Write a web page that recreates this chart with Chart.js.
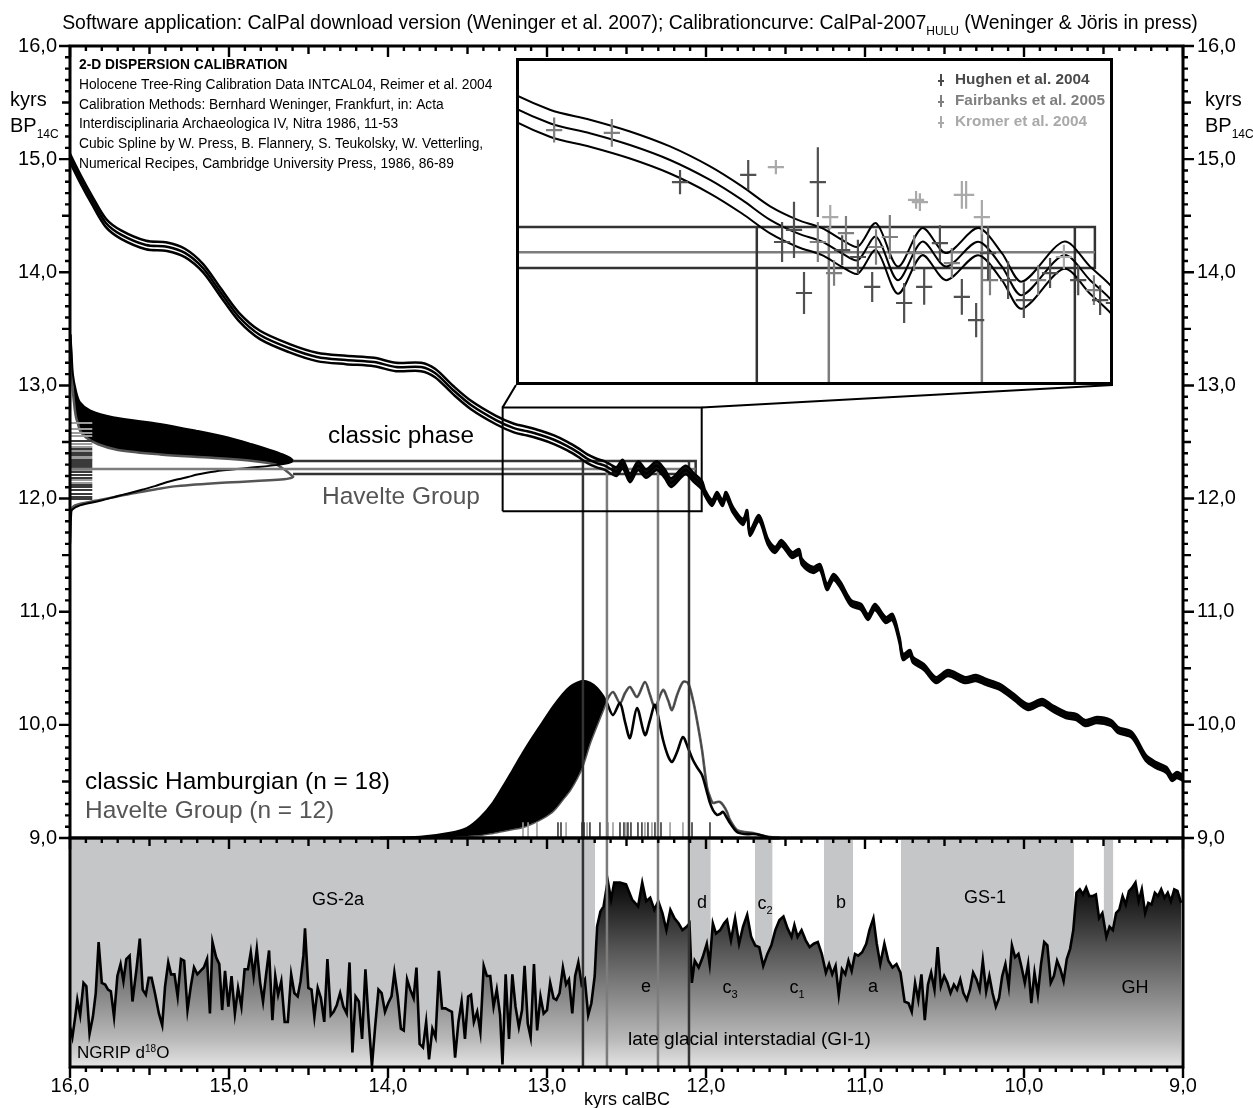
<!DOCTYPE html>
<html>
<head>
<meta charset="utf-8">
<title>2-D dispersion calibration</title>
<script src="https://cdn.jsdelivr.net/npm/chart.js@4.4.1/dist/chart.umd.min.js"></script>
<style>
  html, body { margin: 0; background: #fff; }
  #wrap { position: relative; width: 1253px; height: 1108px; }
  #wrap canvas { position: absolute; }
</style>
</head>
<body>
<div id="wrap">
  <canvas id="main" width="1253" height="1108" style="left:0;top:0"></canvas>
  <canvas id="zoom" width="597" height="327" style="left:516px;top:58px"></canvas>
</div>
<script>
const FONT = '"Liberation Sans", Arial, sans-serif'

// calibration curve CalPal-2007 HULU: cal kyr BC, 14C kyr BP, 1 sigma
const curveCal = [16.000, 15.931, 15.862, 15.774, 15.679, 15.522, 15.390, 15.277, 15.164, 15.050, 14.937, 14.805, 14.623, 14.447, 14.264, 14.088, 13.950, 13.792, 13.704, 13.591, 13.478, 13.321,
  13.208, 13.124, 13.040, 12.956, 12.872, 12.805, 12.746, 12.688, 12.637, 12.595, 12.562, 12.524, 12.478, 12.427, 12.377, 12.310, 12.260, 12.218, 12.130, 12.075, 12.025,
  12.006, 11.962, 11.931, 11.896, 11.874, 11.830, 11.767, 11.742, 11.723, 11.667, 11.610, 11.566, 11.525, 11.459, 11.415, 11.396, 11.327, 11.283, 11.239, 11.198,
  11.154, 11.088, 11.025, 10.981, 10.937, 10.871, 10.827, 10.783, 10.761, 10.717, 10.698, 10.629, 10.553, 10.478, 10.371, 10.302, 10.239, 10.151, 10.063, 9.975,
  9.887, 9.824, 9.736, 9.670, 9.616, 9.541, 9.453, 9.409, 9.321, 9.233, 9.170, 9.104, 9.069, 9.038, 9.000]
const curveC14 = [15.010, 14.816, 14.639, 14.436, 14.333, 14.241, 14.226, 14.171, 14.038, 13.817, 13.605, 13.446, 13.331, 13.252, 13.225, 13.207, 13.163, 13.163, 13.110, 12.960, 12.827, 12.694,
  12.623, 12.595, 12.562, 12.520, 12.464, 12.408, 12.352, 12.314, 12.291, 12.258, 12.239, 12.305, 12.183, 12.291, 12.221, 12.291, 12.221, 12.141, 12.253, 12.183, 12.118,
  12.049, 11.961, 12.032, 11.961, 12.032, 11.899, 11.793, 11.873, 11.696, 11.828, 11.616, 11.546, 11.607, 11.501, 11.528, 11.439, 11.369, 11.395, 11.218, 11.307,
  11.236, 11.077, 11.042, 10.953, 11.042, 10.927, 10.953, 10.750, 10.600, 10.635, 10.573, 10.511, 10.396, 10.458, 10.396, 10.414, 10.379, 10.335, 10.246, 10.158,
  10.202, 10.149, 10.087, 10.069, 10.016, 10.043, 10.016, 9.955, 9.910, 9.707, 9.645, 9.601, 9.530, 9.557, 9.530]
const curveSigma = [0.037, 0.037, 0.037, 0.037, 0.037, 0.037, 0.037, 0.037, 0.037, 0.037, 0.037, 0.037, 0.037, 0.037, 0.037, 0.037, 0.037, 0.037, 0.037, 0.037, 0.037, 0.037,
  0.038, 0.038, 0.038, 0.038, 0.038, 0.038, 0.038, 0.038, 0.038, 0.038, 0.038, 0.038, 0.038, 0.038, 0.038, 0.038, 0.038, 0.038, 0.038, 0.038, 0.038,
  0.026, 0.026, 0.026, 0.026, 0.026, 0.026, 0.026, 0.026, 0.026, 0.026, 0.026, 0.026, 0.026, 0.026, 0.026, 0.026, 0.026, 0.026, 0.026, 0.026,
  0.026, 0.026, 0.026, 0.026, 0.026, 0.026, 0.026, 0.026, 0.026, 0.026, 0.026, 0.026, 0.026, 0.026, 0.026, 0.026, 0.026, 0.026, 0.026, 0.026,
  0.026, 0.026, 0.026, 0.026, 0.026, 0.026, 0.026, 0.026, 0.026, 0.026, 0.026, 0.026, 0.026, 0.026, 0.026]

// NGRIP d18O (permil) against cal kyr BC
const ngripCal = [16.000, 15.985, 15.967, 15.954, 15.936, 15.915, 15.897, 15.877, 15.856, 15.838,
  15.820, 15.800, 15.779, 15.761, 15.743, 15.723, 15.702, 15.682, 15.664, 15.646,
  15.625, 15.607, 15.582, 15.561, 15.543, 15.523, 15.505, 15.487, 15.466, 15.441,
  15.420, 15.402, 15.382, 15.364, 15.343, 15.323, 15.302, 15.282, 15.261, 15.240,
  15.220, 15.199, 15.179, 15.158, 15.138, 15.120, 15.104, 15.081, 15.061, 15.043,
  15.025, 15.004, 14.984, 14.963, 14.943, 14.922, 14.902, 14.881, 14.863, 14.845,
  14.825, 14.804, 14.786, 14.768, 14.748, 14.727, 14.709, 14.691, 14.671, 14.650,
  14.630, 14.609, 14.589, 14.568, 14.550, 14.532, 14.522, 14.501, 14.481, 14.463,
  14.442, 14.422, 14.401, 14.381, 14.360, 14.342, 14.322, 14.301, 14.281, 14.260,
  14.242, 14.224, 14.204, 14.183, 14.163, 14.142, 14.122, 14.101, 14.081, 14.060,
  14.040, 14.019, 13.999, 13.978, 13.960, 13.939, 13.919, 13.901, 13.880, 13.860,
  13.839, 13.821, 13.801, 13.780, 13.760, 13.742, 13.721, 13.701, 13.680, 13.660,
  13.639, 13.619, 13.598, 13.578, 13.557, 13.537, 13.516, 13.496, 13.478, 13.460,
  13.439, 13.419, 13.398, 13.378, 13.357, 13.336, 13.316, 13.295, 13.280, 13.260,
  13.239, 13.218, 13.198, 13.177, 13.157, 13.141, 13.121, 13.103, 13.082, 13.062,
  13.041, 13.021, 13.000, 12.980, 12.959, 12.941, 12.921, 12.900, 12.880, 12.862,
  12.841, 12.823, 12.803, 12.782, 12.762, 12.741, 12.721, 12.700, 12.685, 12.664,
  12.644, 12.618, 12.597, 12.577,
  12.541, 12.503, 12.465, 12.427, 12.401, 12.376, 12.351, 12.325, 12.300, 12.274,
  12.249, 12.224, 12.198, 12.173, 12.148, 12.122, 12.104, 12.089, 12.071, 12.046,
  12.021, 11.995, 11.977, 11.957, 11.937, 11.911, 11.886, 11.868, 11.843, 11.817,
  11.792, 11.767, 11.741, 11.716, 11.691, 11.665, 11.640, 11.614, 11.589, 11.564,
  11.538, 11.513, 11.487, 11.462, 11.444, 11.424, 11.399, 11.373, 11.348, 11.322,
  11.297, 11.272, 11.246, 11.226, 11.206, 11.185, 11.165, 11.145, 11.124, 11.104,
  11.084, 11.063, 11.043, 11.018, 10.992, 10.972, 10.947, 10.926, 10.904, 10.878,
  10.853, 10.827, 10.802, 10.777, 10.751, 10.726, 10.706, 10.685, 10.665, 10.645,
  10.624, 10.604, 10.584, 10.563, 10.543, 10.523, 10.502, 10.482, 10.462, 10.441,
  10.421, 10.401, 10.381, 10.360, 10.340, 10.320, 10.299, 10.279, 10.259, 10.238,
  10.218, 10.198, 10.177, 10.157, 10.137, 10.117, 10.096, 10.076, 10.056, 10.035,
  10.015, 9.995, 9.974, 9.954, 9.934, 9.913, 9.893, 9.873, 9.853, 9.832,
  9.812, 9.792, 9.771, 9.751, 9.731, 9.710, 9.690, 9.670, 9.649, 9.629,
  9.609, 9.589, 9.568, 9.548, 9.528, 9.507, 9.482, 9.462, 9.441, 9.421,
  9.401, 9.380, 9.360, 9.340, 9.320, 9.299, 9.279, 9.259, 9.238, 9.218,
  9.198, 9.177, 9.157, 9.137, 9.116, 9.096, 9.076, 9.055, 9.035, 9.012]
const ngripD18O = [-45.0, -45.6, -44.4, -43.4, -44.3, -42.4, -42.6, -45.4, -44.4, -43.0,
  -40.0, -42.4, -42.5, -42.8, -42.9, -44.4, -42.0, -41.3, -42.3, -41.0,
  -40.8, -43.5, -41.6, -39.8, -42.8, -43.1, -42.1, -42.1, -43.0, -44.2,
  -44.9, -42.6, -41.2, -41.9, -41.9, -43.2, -41.0, -41.1, -44.0, -42.6,
  -41.5, -41.9, -41.7, -41.5, -41.0, -44.2, -40.0, -40.9, -41.3, -44.0,
  -41.7, -43.8, -42.0, -44.2, -42.7, -43.8, -41.6, -41.6, -40.6, -42.0,
  -40.4, -42.4, -43.5, -42.0, -40.5, -44.6, -42.0, -43.1, -42.3, -44.7,
  -44.7, -41.9, -43.0, -43.2, -42.3, -40.8, -39.2, -42.7, -42.8, -44.4,
  -42.7, -43.3, -44.7, -41.0, -44.3, -44.1, -43.7, -43.0, -43.8, -44.2,
  -41.2, -46.5, -43.2, -43.5, -45.7, -41.6, -44.6, -47.3, -45.0, -42.8,
  -43.0, -44.1, -43.6, -43.2, -41.8, -43.2, -45.1, -45.2, -42.2, -42.8,
  -43.3, -41.5, -46.0, -46.2, -44.7, -46.9, -45.1, -45.6, -41.7, -43.9,
  -43.9, -44.0, -44.1, -46.8, -44.7, -43.5, -45.7, -43.2, -43.1, -44.7,
  -44.1, -45.3, -41.4, -42.0, -42.0, -43.8, -42.8, -44.3, -47.2, -41.9,
  -45.7, -41.9, -43.8, -45.0, -44.0, -41.4, -44.8, -45.6, -41.3, -45.2,
  -43.2, -44.2, -44.0, -42.4, -43.3, -43.4, -43.0, -41.5, -42.5, -42.2,
  -44.2, -42.0, -41.2, -42.5, -42.2, -44.3, -43.6, -42.0, -39.1, -38.2,
  -37.9, -36.4, -37.5, -36.5,
  -36.5, -36.6, -37.5, -37.9, -36.5, -37.6, -37.4, -38.1, -37.6, -38.3,
  -39.3, -38.1, -38.6, -38.9, -39.3, -39.1, -38.9, -42.4, -41.1, -41.5,
  -40.9, -40.1, -41.3, -38.9, -39.5, -39.3, -38.9, -38.7, -39.9, -38.6,
  -40.1, -39.1, -38.4, -39.7, -40.2, -40.3, -41.4, -40.7, -40.2, -39.3,
  -38.7, -38.5, -39.2, -39.7, -39.0, -39.7, -39.3, -39.9, -40.3, -40.1,
  -40.0, -40.7, -41.8, -41.3, -41.9, -41.4, -43.1, -41.6, -41.9, -41.1,
  -41.7, -40.7, -40.8, -40.6, -40.1, -39.3, -38.6, -40.1, -41.3, -40.1,
  -41.1, -41.5, -41.3, -41.8, -43.5, -43.6, -44.1, -42.4, -43.4, -41.9,
  -44.6, -42.5, -41.8, -42.8, -40.3, -42.6, -42.0, -42.4, -43.0, -42.5,
  -42.8, -42.2, -43.0, -43.4, -42.8, -41.8, -42.2, -42.8, -41.1, -42.9,
  -42.0, -43.0, -43.8, -43.3, -42.0, -41.3, -42.6, -40.2, -40.9, -40.7,
  -41.5, -42.4, -41.3, -43.6, -41.8, -43.1, -41.3, -40.0, -40.2, -42.4,
  -42.0, -41.1, -41.6, -42.3, -41.0, -40.4, -39.3, -37.1, -36.9, -37.2,
  -36.8, -37.3, -37.3, -37.2, -38.6, -38.3, -39.7, -39.1, -39.3, -38.3,
  -38.1, -37.3, -37.8, -37.0, -36.8, -36.5, -37.6, -36.9, -38.3, -37.7,
  -37.8, -37.1, -37.3, -36.9, -37.4, -37.1, -37.6, -36.9, -37.0, -37.7]

// Greenland stadials (grey bands): start / end, cal kyr BC
const stadialStart = [16.000, 12.097, 11.692, 11.258, 10.774, 9.499]
const stadialEnd = [12.698, 11.970, 11.581, 11.075, 9.686, 9.438]

// summed 14C probabilities (relative), by 14C kyr BP
const c14Grid = [11.60, 11.75, 11.85, 11.90, 11.94, 11.98, 12.02, 12.05, 12.08, 12.11, 12.14, 12.17, 12.19, 12.21, 12.24, 12.27,
  12.30, 12.33, 12.36, 12.39, 12.43, 12.48, 12.54, 12.60, 12.66, 12.72, 12.78, 12.85, 12.95, 13.10, 13.30, 13.45]
const classicC14Prob = [0, 0.002, 0.005, 0.009, 0.045, 0.135, 0.211, 0.269, 0.327, 0.381, 0.426, 0.484, 0.529, 0.565, 0.650, 0.798,
  0.942, 1.000, 0.987, 0.955, 0.897, 0.816, 0.709, 0.565, 0.404, 0.193, 0.090, 0.045, 0.027, 0.013, 0.007, 0.002]
const havelteC14Prob = [0, 0.002, 0.003, 0.005, 0.022, 0.112, 0.215, 0.291, 0.381, 0.480, 0.682, 0.960, 1.000, 0.991, 0.973, 0.951,
  0.924, 0.830, 0.637, 0.404, 0.215, 0.126, 0.072, 0.045, 0.036, 0.027, 0.022, 0.018, 0.013, 0.009, 0.004, 0.002]

// summed calibrated probabilities (relative), by cal kyr BC
const calGrid = [14.050, 13.799, 13.610, 13.503, 13.421, 13.340, 13.277, 13.214, 13.151, 13.088,
  13.025, 12.962, 12.899, 12.855, 12.811, 12.774, 12.730, 12.686, 12.648, 12.623,
  12.585, 12.541, 12.509, 12.478, 12.434, 12.384, 12.352, 12.321, 12.270, 12.239,
  12.214, 12.182, 12.145, 12.113, 12.082, 12.057, 12.025, 11.994, 11.975, 11.956,
  11.931, 11.912, 11.893, 11.868, 11.849, 11.805, 11.755, 11.704, 11.660, 11.597, 11.535]
const classicCalProb = [0, 0.006, 0.032, 0.063, 0.127, 0.222, 0.323, 0.430, 0.538, 0.639,
  0.734, 0.829, 0.911, 0.956, 0.981, 0.994, 0.981, 0.949, 0.899, 0.854,
  0.778, 0.854, 0.734, 0.633, 0.823, 0.652, 0.747, 0.842, 0.620, 0.519,
  0.481, 0.544, 0.639, 0.570, 0.494, 0.449, 0.399, 0.291, 0.222, 0.177,
  0.146, 0.152, 0.165, 0.127, 0.095, 0.038, 0.025, 0.025, 0.019, 0, 0]
const havelteCalProb = [0, 0, 0.006, 0.013, 0.019, 0.032, 0.044, 0.057, 0.070, 0.095,
  0.127, 0.171, 0.247, 0.304, 0.380, 0.462, 0.601, 0.715, 0.810, 0.873,
  0.924, 0.854, 0.918, 0.956, 0.892, 0.987, 0.905, 0.829, 0.937, 0.873,
  0.810, 0.905, 0.987, 0.981, 0.873, 0.747, 0.557, 0.323, 0.259, 0.222,
  0.228, 0.228, 0.209, 0.165, 0.114, 0.051, 0.038, 0.032, 0.019, 0.006, 0]

// single dates: 14C ages and calibrated medians
const classicDatesC14 = [12.509, 12.385, 12.323, 12.288, 12.208, 12.182, 12.102, 12.076, 12.040, 12.014, 12.438, 12.403, 12.341, 12.306, 12.270, 12.235, 12.120, 11.996]
const havelteDatesC14 = [12.668, 12.580, 12.553, 12.456, 12.420, 12.350, 12.253, 12.138, 12.615, 12.482, 12.367, 12.164]
const classicDatesCal = [12.931, 12.912, 12.780, 12.767, 12.730, 12.541, 12.516, 12.491, 12.472, 12.428, 12.365, 12.321, 12.302, 12.283, 12.088, 11.975, 12.667, 12.403]
const havelteDatesCal = [13.151, 13.119, 13.063, 12.880, 12.748, 12.616, 12.585, 12.503, 12.384, 12.340, 12.226, 12.145]

// phase ranges
const classicRangeCal = [12.774, 12.107]
const havelteRangeCal = [12.623, 12.302]
const classicRangeC14 = [12.332, 12.217]
const havelteC14Line = 12.261
const rangeEndCal = 12.065
const rangeStartCal = 14.597

// inset window (cal kyr BC, 14C kyr BP)
const insetCal = [12.027, 13.279]
const insetC14 = [11.889, 12.806]

// marine / varve datasets shown in the inset
const calErr = 0.017
const hughenCal = [12.935, 12.792, 12.646, 12.696, 12.721, 12.675, 12.595, 12.562, 12.532, 12.465, 12.423, 12.390, 12.344, 12.314, 12.289, 12.247, 12.214, 12.159, 12.100, 12.054, 12.025]
const hughenC14 = [12.458, 12.478, 12.458, 12.324, 12.290, 12.147, 12.267, 12.248, 12.164, 12.119, 12.164, 12.287, 12.136, 12.071, 12.259, 12.183, 12.127, 12.203, 12.183, 12.127, 12.119]
const hughenErr = [0.034, 0.042, 0.098, 0.079, 0.056, 0.059, 0.042, 0.048, 0.042, 0.056, 0.050, 0.050, 0.050, 0.048, 0.076, 0.053, 0.050, 0.042, 0.042, 0.042, 0.042]
const fairbanksCal = [13.199, 13.078, 12.646, 12.612, 12.587, 12.524, 12.495, 12.444, 12.365, 12.285, 12.184, 12.067]
const fairbanksC14 = [12.604, 12.596, 12.290, 12.203, 12.315, 12.276, 12.304, 12.259, 12.231, 12.183, 12.183, 12.155]
const fairbanksErr = [0.035, 0.039, 0.056, 0.036, 0.048, 0.050, 0.062, 0.050, 0.042, 0.042, 0.042, 0.042]
const kromerCal = [12.734, 12.620, 12.440, 12.432, 12.344, 12.335, 12.302, 12.130]
const kromerC14 = [12.500, 12.360, 12.408, 12.402, 12.422, 12.422, 12.360, 12.248]
const kromerErr = [0.020, 0.034, 0.025, 0.025, 0.039, 0.039, 0.048, 0.034]

const DARK = '#333333', GREY = '#7c7c7c', HAVELTE = '#555555'

// page layout (pixels) and the value ranges each scale must span
const area = {left: 70, right: 1183, top: 46, bottom: 1067}
const splitPx = 838
const c14PerPx = 7 / (splitPx - area.top)
const probPx = 158
const ngripTop = -34.0, ngripBottom = -47.35
const ngripPerPx = (ngripTop - ngripBottom) / (area.bottom - splitPx - 2)
const densPx = 223
const plateauStart = 12.62   // where the main curve turns into a dense wiggly band

const pts = (xs, ys) => xs.map((v, i) => ({x: v, y: ys[i]}))
const shift = (ys, s, k) => ys.map((v, i) => v + k * s[i])

function segs(list) {
  const out = []
  list.forEach(([a, b]) => out.push(a, b, {x: b.x, y: null}))
  return out
}
function crosses(cal, c14, err) {
  const out = []
  cal.forEach((c, i) => {
    out.push({x: c - calErr, y: c14[i]}, {x: c + calErr, y: c14[i]}, {x: c, y: null})
    out.push({x: c, y: c14[i] - err[i]}, {x: c, y: c14[i] + err[i]}, {x: c, y: null})
  })
  return out
}

const L = (o) => Object.assign({type: 'line', pointRadius: 0, borderWidth: 2, fill: false, tension: 0, spanGaps: false, xAxisID: 'x', yAxisID: 'y'}, o)

function ngripFill(c) {
  const ch = c.chart
  if (!ch.chartArea) return '#888'
  const s = ch.scales.yn
  const g = ch.ctx.createLinearGradient(0, s.getPixelForValue(-36), 0, s.getPixelForValue(ngripBottom))
  g.addColorStop(0, '#000000')
  g.addColorStop(0.14, '#1c1c1c')
  g.addColorStop(0.39, '#555555')
  g.addColorStop(0.65, '#8c8c8c')
  g.addColorStop(0.86, '#bababa')
  g.addColorStop(1, '#e4e4e4')
  return g
}

const bandPts = segs(stadialStart.map((s, i) => [{x: s, y: ngripTop}, {x: stadialEnd[i], y: ngripTop}]))
const c14Bottom = 9 - (area.bottom - splitPx) * c14PerPx
const upperC14 = shift(curveC14, curveSigma, 1), lowerC14 = shift(curveC14, curveSigma, -1)
const wig = curveCal.map((c, i) => i).filter(i => curveCal[i] <= plateauStart)

const mainSets = [
  L({label: 'stadials', yAxisID: 'yn', data: bandPts, borderWidth: 0, fill: 'start', backgroundColor: '#c5c6c8', order: 100}),
  L({label: 'NGRIP d18O', yAxisID: 'yn', data: pts(ngripCal, ngripD18O), borderColor: '#000', borderWidth: 2.6, fill: 'start', backgroundColor: ngripFill, order: 90}),
  L({label: 'classic 14C fill', indexAxis: 'y', xAxisID: 'xd', data: pts(classicC14Prob, c14Grid), borderWidth: 0, fill: 'origin', backgroundColor: '#000', tension: 0.3, order: 80}),
  L({label: 'Havelte 14C', indexAxis: 'y', xAxisID: 'xd', data: pts(havelteC14Prob, c14Grid), borderColor: HAVELTE, borderWidth: 2.5, fill: 'origin', backgroundColor: '#fff', tension: 0.3, order: 79}),
  L({label: 'classic 14C', indexAxis: 'y', xAxisID: 'xd', data: pts(classicC14Prob, c14Grid), borderColor: '#000', borderWidth: 2, tension: 0.3, order: 78}),
  L({label: 'Havelte cal', yAxisID: 'yp', data: pts(calGrid, havelteCalProb), borderColor: HAVELTE, borderWidth: 2.6, tension: 0.3, order: 70}),
]
const havelteCalIndex = mainSets.length - 1
mainSets.push(
  L({label: 'classic cal', yAxisID: 'yp', data: pts(calGrid, classicCalProb), borderColor: '#000', borderWidth: 2.6, tension: 0.3,
     fill: {target: havelteCalIndex, above: '#000', below: 'rgba(0,0,0,0)'}, order: 69}),
  L({label: 'classic dates 14C', xAxisID: 'xd', data: segs(classicDatesC14.map(v => [{x: 0, y: v}, {x: 0.1, y: v}])), borderColor: '#3a3a3a', borderWidth: 2, order: 60}),
  L({label: 'Havelte dates 14C', xAxisID: 'xd', data: segs(havelteDatesC14.map(v => [{x: 0, y: v}, {x: 0.1, y: v}])), borderColor: '#9c9c9c', borderWidth: 2, order: 61}),
  L({label: 'classic dates cal', yAxisID: 'yp', data: segs(classicDatesCal.map(v => [{x: v, y: 0}, {x: v, y: 0.1}])), borderColor: '#3a3a3a', borderWidth: 1.6, order: 60}),
  L({label: 'Havelte dates cal', yAxisID: 'yp', data: segs(havelteDatesCal.map(v => [{x: v, y: 0}, {x: v, y: 0.1}])), borderColor: '#9c9c9c', borderWidth: 1.6, order: 61}),
  L({label: 'classic 14C range', data: [{x: rangeStartCal, y: classicRangeC14[0]}, {x: rangeEndCal, y: classicRangeC14[0]}, {x: rangeEndCal, y: classicRangeC14[1]}, {x: rangeStartCal, y: classicRangeC14[1]}],
     borderColor: DARK, borderWidth: 2.5, order: 51}),
  L({label: 'Havelte 14C range', data: [{x: 16, y: havelteC14Line}, {x: rangeEndCal, y: havelteC14Line}], borderColor: GREY, borderWidth: 2.5, order: 50}),
  L({label: 'classic cal range', data: segs(classicRangeCal.map(v => [{x: v, y: classicRangeC14[0]}, {x: v, y: c14Bottom}])), borderColor: DARK, borderWidth: 2.5, order: 49}),
  L({label: 'Havelte cal range', data: segs(havelteRangeCal.map(v => [{x: v, y: classicRangeC14[0]}, {x: v, y: c14Bottom}])), borderColor: GREY, borderWidth: 2.5, order: 48}),
  L({label: 'zoom box', data: [{x: insetCal[1], y: insetC14[0]}, {x: insetCal[1], y: insetC14[1]}, {x: insetCal[0], y: insetC14[1]}, {x: insetCal[0], y: insetC14[0]}, {x: insetCal[1], y: insetC14[0]}],
     borderColor: '#000', borderWidth: 2, order: 40}),
  L({label: 'curve band', data: wig.map(i => ({x: curveCal[i], y: upperC14[i]})), borderWidth: 0, fill: '+1', backgroundColor: '#111', tension: 0.3, order: 14}),
  L({label: 'curve band low', data: wig.map(i => ({x: curveCal[i], y: lowerC14[i]})), borderWidth: 0, tension: 0.3, order: 13}),
  L({label: 'curve +1s', data: pts(curveCal, upperC14), borderColor: '#000', borderWidth: 2.5, tension: 0.3, order: 12}),
  L({label: 'curve', data: pts(curveCal, curveC14), borderColor: '#000', borderWidth: 2.5, tension: 0.3, order: 11}),
  L({label: 'curve -1s', data: pts(curveCal, lowerC14), borderColor: '#000', borderWidth: 2.5, tension: 0.3, order: 10}),
)

function fitFont(ctx, text, bold, width) {
  ctx.font = `${bold ? 'bold ' : ''}20px ${FONT}`
  return 20 * width / ctx.measureText(text).width
}
function rich(ctx, parts, x, y, size, align, color) {
  const fN = `${size}px ${FONT}`, fS = `${Math.round(size * 0.6)}px ${FONT}`
  let w = 0
  parts.forEach(([t, k]) => { ctx.font = k === 'n' ? fN : fS; w += ctx.measureText(t).width })
  let cx = align === 'center' ? x - w / 2 : x
  ctx.textAlign = 'left'
  ctx.textBaseline = 'alphabetic'
  ctx.fillStyle = color || '#000'
  parts.forEach(([t, k]) => {
    ctx.font = k === 'n' ? fN : fS
    const dy = k === 'sub' ? size * 0.3 : (k === 'sup' ? -size * 0.36 : 0)
    ctx.fillText(t, cx, y + dy)
    cx += ctx.measureText(t).width
  })
}
function text(ctx, t, x, y, size, opt = {}) {
  ctx.font = `${opt.bold ? 'bold ' : ''}${size}px ${FONT}`
  ctx.fillStyle = opt.color || '#000'
  ctx.textAlign = opt.align || 'left'
  ctx.textBaseline = 'middle'
  ctx.fillText(t, x, y)
}

const mainDecor = {
  id: 'mainDecor',
  afterDraw(chart) {
    const {ctx, chartArea: a, scales} = chart
    const sx = scales.x, sy = scales.y
    const mid = sy.getPixelForValue(9)
    ctx.save()

    // connectors between the zoom box and the inset
    const inset = document.getElementById('zoom')
    const by = inset.offsetTop + inset.height
    ctx.strokeStyle = '#000'
    ctx.lineWidth = 2
    ctx.beginPath()
    ctx.moveTo(sx.getPixelForValue(insetCal[1]), sy.getPixelForValue(insetC14[1]))
    ctx.lineTo(inset.offsetLeft, by)
    ctx.moveTo(sx.getPixelForValue(insetCal[0]), sy.getPixelForValue(insetC14[1]))
    ctx.lineTo(inset.offsetLeft + inset.width, by)
    ctx.stroke()

    // frames
    ctx.lineWidth = 3
    ctx.strokeRect(a.left, a.top, a.right - a.left, mid - a.top)
    ctx.strokeRect(a.left, mid, a.right - a.left, a.bottom - mid)

    // ticks
    ctx.lineWidth = 2.4
    ctx.beginPath()
    for (let k = 90; k <= 160; k++) {
      const len = k % 10 === 0 ? 11 : (k % 5 === 0 ? 8 : 5)
      const px = sx.getPixelForValue(k / 10)
      for (const y0 of [a.top, mid, a.bottom]) { ctx.moveTo(px, y0); ctx.lineTo(px, y0 + len) }
      const py = sy.getPixelForValue(k / 10)
      ctx.moveTo(a.left, py); ctx.lineTo(a.left - len, py)
      ctx.moveTo(a.right, py); ctx.lineTo(a.right + len, py)
    }
    ctx.stroke()

    // tick labels
    for (let k = 9; k <= 16; k++) {
      const lab = `${k},0`
      text(ctx, lab, a.left - 13, sy.getPixelForValue(k), 20, {align: 'right'})
      text(ctx, lab, a.right + 14, sy.getPixelForValue(k), 20)
      text(ctx, lab, sx.getPixelForValue(k), a.bottom + 19, 20, {align: 'center'})
    }
    text(ctx, 'kyrs calBC', 627, 1100, 18, {align: 'center'})
    text(ctx, 'kyrs', 10, 100, 20)
    rich(ctx, [['BP', 'n'], ['14C', 'sub']], 10, 132, 20, 'left')
    text(ctx, 'kyrs', 1205, 100, 20)
    rich(ctx, [['BP', 'n'], ['14C', 'sub']], 1205, 132, 20, 'left')

    // title
    const title = [['Software application: CalPal download version (Weninger et al. 2007); Calibrationcurve: CalPal-2007', 'n'], ['HULU', 'sub'], [' (Weninger & Jöris in press)', 'n']]
    rich(ctx, title, 630, 29, 19.4, 'center')

    // info block
    const info = ['Holocene Tree-Ring Calibration Data INTCAL04, Reimer et al. 2004',
      'Calibration Methods: Bernhard Weninger, Frankfurt, in: Acta',
      'Interdisciplinaria Archaeologica IV, Nitra 1986, 11-53',
      'Cubic Spline by W. Press, B. Flannery, S. Teukolsky, W. Vetterling,',
      'Numerical Recipes, Cambridge University Press, 1986, 86-89']
    const fs = fitFont(ctx, info[0], false, 414)
    text(ctx, '2-D DISPERSION CALIBRATION', 79, 65, fs, {bold: true})
    info.forEach((t, i) => text(ctx, t, 79, 85 + i * 19.8, fs))

    // phase labels
    text(ctx, 'classic phase', 328, 436, fitFont(ctx, 'classic phase', false, 146))
    text(ctx, 'Havelte Group', 322, 497, fitFont(ctx, 'Havelte Group', false, 158), {color: HAVELTE})
    const fl = fitFont(ctx, 'classic Hamburgian (n = 18)', false, 305)
    text(ctx, 'classic Hamburgian (n = 18)', 85, 782, fl)
    text(ctx, 'Havelte Group (n = 12)', 85, 811, fl, {color: HAVELTE})

    // NGRIP panel labels
    text(ctx, 'GS-2a', 338, 900, 18, {align: 'center'})
    text(ctx, 'd', 702, 903, 18, {align: 'center'})
    rich(ctx, [['c', 'n'], ['2', 'sub']], 765, 909, 18, 'center')
    text(ctx, 'b', 841, 903, 18, {align: 'center'})
    text(ctx, 'GS-1', 985, 898, 18, {align: 'center'})
    text(ctx, 'e', 646, 987, 18, {align: 'center'})
    rich(ctx, [['c', 'n'], ['3', 'sub']], 730, 993, 18, 'center')
    rich(ctx, [['c', 'n'], ['1', 'sub']], 797, 993, 18, 'center')
    text(ctx, 'a', 873, 987, 18, {align: 'center'})
    text(ctx, 'GH', 1135, 988, 18, {align: 'center'})
    text(ctx, 'late glacial interstadial (GI-1)', 628, 1040, fitFont(ctx, 'late glacial interstadial (GI-1)', false, 243))
    rich(ctx, [['NGRIP d', 'n'], ['18', 'sup'], ['O', 'n']], 77, 1058, 17, 'left')
    ctx.restore()
  }
}

new Chart(document.getElementById('main'), {
  data: {datasets: mainSets},
  options: {
    responsive: false, animation: false, devicePixelRatio: 1, events: [],
    layout: {padding: {left: area.left, right: 1253 - area.right, top: area.top, bottom: 1108 - area.bottom}},
    plugins: {legend: {display: false}, tooltip: {enabled: false}},
    scales: {
      x: {type: 'linear', display: false, reverse: true, min: 9, max: 16},
      y: {type: 'linear', display: false, min: c14Bottom, max: 16},
      xd: {type: 'linear', display: false, min: 0, max: (area.right - area.left) / densPx},
      yp: {type: 'linear', display: false, min: -(area.bottom - splitPx) / probPx, max: (splitPx - area.top) / probPx},
      yn: {type: 'linear', display: false, min: ngripBottom, max: ngripBottom + (area.bottom - area.top) * ngripPerPx}
    }
  },
  plugins: [mainDecor]
})

// ---- inset: zoom of the plateau with the marine / varve data ----
const insetSets = [
  L({label: 'classic 14C range', data: [{x: 13.5, y: classicRangeC14[0]}, {x: rangeEndCal, y: classicRangeC14[0]}, {x: rangeEndCal, y: classicRangeC14[1]}, {x: 13.5, y: classicRangeC14[1]}],
     borderColor: DARK, borderWidth: 2.5, order: 51}),
  L({label: 'Havelte 14C range', data: [{x: 13.5, y: havelteC14Line}, {x: rangeEndCal, y: havelteC14Line}], borderColor: GREY, borderWidth: 2.5, order: 50}),
  L({label: 'classic cal range', data: segs(classicRangeCal.map(v => [{x: v, y: classicRangeC14[0]}, {x: v, y: 11.5}])), borderColor: DARK, borderWidth: 2.5, order: 49}),
  L({label: 'Havelte cal range', data: segs(havelteRangeCal.map(v => [{x: v, y: classicRangeC14[0]}, {x: v, y: 11.5}])), borderColor: GREY, borderWidth: 2.5, order: 48}),
  L({label: 'curve +1s', data: pts(curveCal, upperC14), borderColor: '#000', borderWidth: 2, tension: 0.3, order: 30}),
  L({label: 'curve', data: pts(curveCal, curveC14), borderColor: '#000', borderWidth: 2, tension: 0.3, order: 29}),
  L({label: 'curve -1s', data: pts(curveCal, lowerC14), borderColor: '#000', borderWidth: 2, tension: 0.3, order: 28}),
  L({label: 'Kromer et al. 2004', data: crosses(kromerCal, kromerC14, kromerErr), borderColor: '#a9a9a9', borderWidth: 2.2, order: 22}),
  L({label: 'Fairbanks et al. 2005', data: crosses(fairbanksCal, fairbanksC14, fairbanksErr), borderColor: '#7f7f7f', borderWidth: 2.2, order: 21}),
  L({label: 'Hughen et al. 2004', data: crosses(hughenCal, hughenC14, hughenErr), borderColor: '#505050', borderWidth: 2.2, order: 20}),
]

const insetDecor = {
  id: 'insetDecor',
  afterDraw(chart) {
    const {ctx, width, height} = chart
    ctx.save()
    const items = [['Hughen et al. 2004', '#4a4a4a'], ['Fairbanks et al. 2005', '#7f7f7f'], ['Kromer et al. 2004', '#a9a9a9']]
    const fs = fitFont(ctx, 'Fairbanks et al. 2005', true, 150)
    items.forEach(([t, c], i) => {
      const y = 22 + i * 21
      ctx.strokeStyle = c
      ctx.lineWidth = 2
      ctx.beginPath()
      ctx.moveTo(425, y - 6); ctx.lineTo(425, y + 6)
      ctx.moveTo(422, y + 1); ctx.lineTo(428, y + 1)
      ctx.stroke()
      text(ctx, t, 439, y, fs, {bold: true, color: c})
    })
    ctx.strokeStyle = '#000'
    ctx.lineWidth = 3
    ctx.strokeRect(1.5, 1.5, width - 3, height - 3)
    ctx.restore()
  }
}

new Chart(document.getElementById('zoom'), {
  data: {datasets: insetSets},
  options: {
    responsive: false, animation: false, devicePixelRatio: 1, events: [],
    layout: {padding: 0},
    plugins: {legend: {display: false}, tooltip: {enabled: false}},
    scales: {
      x: {type: 'linear', display: false, reverse: true, min: insetCal[0], max: insetCal[1]},
      y: {type: 'linear', display: false, min: insetC14[0], max: insetC14[1]}
    }
  },
  plugins: [insetDecor]
})
</script>
</body>
</html>
